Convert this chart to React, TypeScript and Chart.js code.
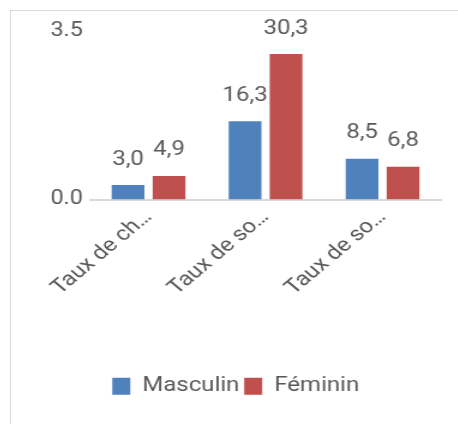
import React, { useEffect, useRef } from "react";
import { Chart, registerables } from "chart.js";

Chart.register(...registerables);

const categories = ["Taux de ch…", "Taux de so…", "Taux de so…"];
const masculin = [3.0, 16.3, 8.5];
const feminin = [4.9, 30.3, 6.8];
const yTickValues = [0, 35];
const yTickLabels = ["0.0", "3.5"];
const seriesNames = ["Masculin", "Féminin"];

const TEXT = "#595959";
const FONT = "Roboto";

const fmt = (v: number) => v.toFixed(1).replace(".", ",");

const valueLabels = {
  id: "valueLabels",
  afterDatasetsDraw(chart: any) {
    const ctx = chart.ctx;
    ctx.save();
    ctx.font = `20px ${FONT}`;
    ctx.fillStyle = TEXT;
    ctx.textAlign = "center";
    ctx.textBaseline = "alphabetic";
    chart.data.datasets.forEach((ds: any, i: number) => {
      const meta = chart.getDatasetMeta(i);
      meta.data.forEach((bar: any, j: number) => {
        ctx.fillText(fmt(ds.data[j]), bar.x, bar.y - 20.5);
      });
    });
    ctx.restore();
  },
};

export default function App() {
  const ref = useRef<HTMLCanvasElement | null>(null);
  useEffect(() => {
    if (!ref.current) return;
    const chart = new Chart(ref.current, {
      type: "bar",
      data: {
        labels: categories,
        datasets: [
          {
            label: seriesNames[0],
            data: masculin,
            backgroundColor: "#4f81bd",
            barPercentage: 0.8,
            categoryPercentage: 0.7,
          },
          {
            label: seriesNames[1],
            data: feminin,
            backgroundColor: "#c0504d",
            barPercentage: 0.8,
            categoryPercentage: 0.7,
          },
        ],
      },
      options: {
        responsive: false,
        animation: false,
        devicePixelRatio: 1,
        layout: { padding: { top: 21.5, bottom: 17.7, left: 17, right: 17.8 } },
        plugins: {
          tooltip: { enabled: false },
          legend: {
            position: "bottom",
            labels: {
              boxWidth: 15,
              boxHeight: 17,
              padding: 4,
              color: TEXT,
              font: { family: FONT, size: 20 },
            },
          },
        },
        scales: {
          x: {
            grid: { display: false, drawTicks: false },
            border: { display: true, color: "#d9d9d9", width: 2 },
            ticks: {
              autoSkip: false,
              minRotation: 45,
              maxRotation: 45,
              padding: 6,
              color: TEXT,
              font: { family: FONT, size: 20 },
            },
            afterFit: (scale: any) => {
              scale.height = 172.8;
            },
          },
          y: {
            min: 0,
            max: 35,
            grid: { display: false, drawTicks: false },
            border: { display: false },
            afterBuildTicks: (scale: any) => {
              scale.ticks = yTickValues.map((v) => ({ value: v }));
            },
            ticks: {
              padding: 6,
              color: TEXT,
              font: { family: FONT, size: 19.5 },
              callback: (_v: any, i: number) => yTickLabels[i],
            },
            afterFit: (scale: any) => {
              scale.width = 49.7;
            },
          },
        },
      },
      plugins: [valueLabels],
    } as any);
    return () => chart.destroy();
  }, []);

  return (
    <div
      style={{
        position: "fixed",
        left: 0,
        top: 0,
        width: 458,
        height: 424,
        overflow: "hidden",
        background: "#fff",
      }}
    >
      <div
        style={{
          position: "absolute",
          left: 10,
          top: 10,
          width: 470,
          height: 440,
          border: "1px solid #d9d9d9",
          boxSizing: "border-box",
        }}
      />
      <div
        style={{
          position: "absolute",
          left: 10,
          top: 10,
          transform: "scaleX(1.2)",
          transformOrigin: "0 0",
        }}
      >
        <canvas ref={ref} width={377} height={414} style={{ display: "block" }} />
      </div>
    </div>
  );
}
